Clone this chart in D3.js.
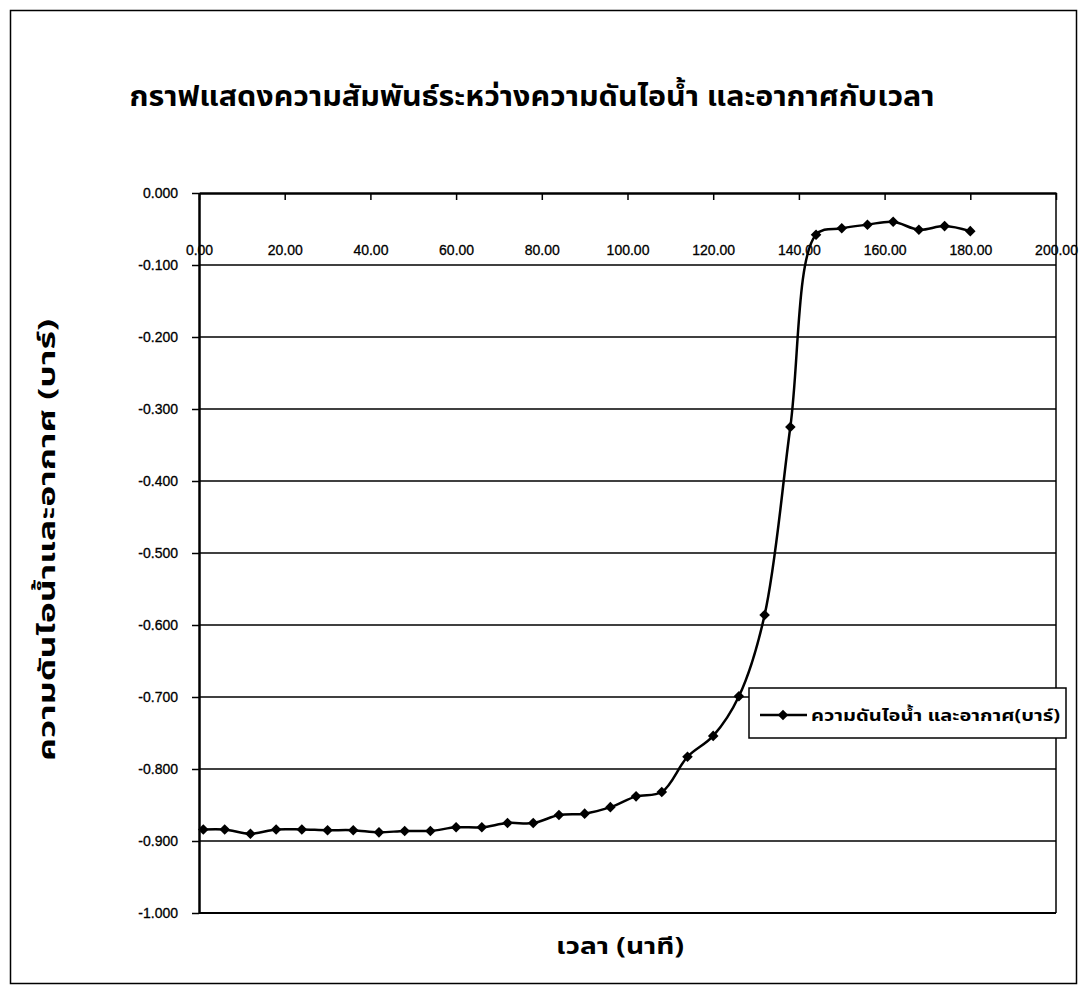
<!DOCTYPE html>
<html>
<head>
<meta charset="utf-8">
<script src="https://cdn.jsdelivr.net/npm/d3@7"></script>
<style>
  html, body { margin: 0; padding: 0; background: #fff; }
  svg { display: block; }
</style>
</head>
<body>
<script>
// ---- Data ----
const titleText = "กราฟแสดงความสัมพันธ์ระหว่างความดันไอน้ำ และอากาศกับเวลา";
const xAxisTitle = "เวลา (นาที)";
const yAxisTitle = "ความดันไอน้ำและอากาศ (บาร์)";
const seriesName = "ความดันไอน้ำ และอากาศ(บาร์)";

const timeMinutes = [1, 6, 12, 18, 24, 30, 36, 42, 48, 54, 60, 66, 72, 78, 84, 90, 96, 102, 108, 114, 120, 126, 132, 138, 144, 150, 156, 162, 168, 174, 180];
const pressureBar = [-0.884, -0.884, -0.890, -0.884, -0.884, -0.885, -0.885, -0.888, -0.886, -0.886, -0.881, -0.881, -0.875, -0.875, -0.864, -0.862, -0.853, -0.838, -0.832, -0.783, -0.754, -0.699, -0.586, -0.325, -0.058, -0.049, -0.044, -0.040, -0.051, -0.046, -0.053];

const xTicks = [0, 20, 40, 60, 80, 100, 120, 140, 160, 180, 200];
const yTicks = [0, -0.1, -0.2, -0.3, -0.4, -0.5, -0.6, -0.7, -0.8, -0.9, -1.0];

// ---- Layout ----
const W = 1086, H = 990;
const plot = { left: 199, right: 1056, top: 193, bottom: 913 };

const svg = d3.select("body").append("svg").attr("width", W).attr("height", H);

// outer frame
svg.append("rect").attr("x", 10.5).attr("y", 10.5).attr("width", 1066).attr("height", 973)
  .attr("fill", "none").attr("stroke", "#000").attr("stroke-width", 1.5);

const x = d3.scaleLinear().domain([0, 200]).range([plot.left, plot.right]);
const y = d3.scaleLinear().domain([-1, 0]).range([plot.bottom, plot.top]);

const thaiFont = "'Noto Sans Thai', 'Noto Sans', 'DejaVu Sans', sans-serif";
const numFont = "'Liberation Sans', Arial, sans-serif";

// gridlines
svg.append("g").selectAll("line").data(yTicks.filter(t => t < 0 && t > -1)).join("line")
  .attr("x1", plot.left).attr("x2", plot.right)
  .attr("y1", d => y(d)).attr("y2", d => y(d))
  .attr("stroke", "#000").attr("stroke-width", 1.5);

// plot area border (right and bottom)
svg.append("line").attr("x1", plot.right).attr("x2", plot.right).attr("y1", plot.top).attr("y2", plot.bottom)
  .attr("stroke", "#000").attr("stroke-width", 1.5);
svg.append("line").attr("x1", plot.left).attr("x2", plot.right).attr("y1", plot.bottom).attr("y2", plot.bottom)
  .attr("stroke", "#000").attr("stroke-width", 2);

// y axis (at x = 0)
const yAxis = d3.axisLeft(y).tickValues(yTicks).tickFormat(d3.format(".3f")).tickSizeInner(7).tickSizeOuter(0).tickPadding(14);
const gy = svg.append("g").attr("transform", `translate(${x(0)},0)`).call(yAxis);
gy.select(".domain").attr("stroke-width", 2.5);
gy.selectAll(".tick line").attr("stroke-width", 1.5);
gy.selectAll("text").attr("font-family", numFont).attr("font-size", 14).attr("fill", "#000")
  .attr("stroke", "#000").attr("stroke-width", 0.3)
  .text(d => d === 0 ? "0.000" : d3.format(".3f")(d).replace("−", "-"));

// x axis (at y = 0, top)
const xAxis = d3.axisBottom(x).tickValues(xTicks).tickFormat(d3.format(".2f")).tickSizeInner(7).tickSizeOuter(0).tickPadding(45);
const gx = svg.append("g").attr("transform", `translate(0,${y(0)})`).call(xAxis);
gx.select(".domain").attr("stroke-width", 2.5);
gx.selectAll(".tick line").attr("stroke-width", 1.5);
gx.selectAll("text").attr("font-family", numFont).attr("font-size", 14).attr("fill", "#000")
  .attr("stroke", "#000").attr("stroke-width", 0.3);

// series line
const line = d3.line()
  .x((d, i) => x(timeMinutes[i]))
  .y(d => y(d))
  .curve(d3.curveCatmullRom.alpha(0.5));
svg.append("path").datum(pressureBar).attr("d", line)
  .attr("fill", "none").attr("stroke", "#000").attr("stroke-width", 2.5);

// markers
const diamond = d3.symbol().type(d3.symbolSquare).size(56);
svg.append("g").selectAll("path").data(pressureBar).join("path")
  .attr("d", diamond)
  .attr("transform", (d, i) => `translate(${x(timeMinutes[i])},${y(d)}) rotate(45)`)
  .attr("fill", "#000");

// title
svg.append("text").attr("x", 532).attr("y", 106).attr("text-anchor", "middle")
  .attr("font-family", thaiFont).attr("font-weight", "bold").attr("font-size", 28)
  .attr("textLength", 805).attr("lengthAdjust", "spacingAndGlyphs")
  .text(titleText);

// axis titles
svg.append("text").attr("x", 620).attr("y", 954).attr("text-anchor", "middle")
  .attr("font-family", thaiFont).attr("font-weight", "bold").attr("font-size", 23)
  .attr("textLength", 128).attr("lengthAdjust", "spacingAndGlyphs")
  .text(xAxisTitle);

svg.append("text").attr("transform", "translate(55,540) rotate(-90)").attr("text-anchor", "middle")
  .attr("font-family", thaiFont).attr("font-weight", "bold").attr("font-size", 23)
  .attr("textLength", 442).attr("lengthAdjust", "spacingAndGlyphs")
  .text(yAxisTitle);

// legend
const lg = svg.append("g").attr("transform", "translate(749,688)");
lg.append("rect").attr("x", 0).attr("y", 0).attr("width", 317).attr("height", 50)
  .attr("fill", "#fff").attr("stroke", "#000").attr("stroke-width", 1.5);
lg.append("line").attr("x1", 11).attr("x2", 58).attr("y1", 27).attr("y2", 27)
  .attr("stroke", "#000").attr("stroke-width", 2.5);
lg.append("path").attr("d", diamond).attr("transform", "translate(34,27) rotate(45)").attr("fill", "#000");
lg.append("text").attr("x", 62).attr("y", 33)
  .attr("font-family", thaiFont).attr("font-weight", "bold").attr("font-size", 16)
  .attr("textLength", 249).attr("lengthAdjust", "spacingAndGlyphs")
  .text(seriesName);
</script>
</body>
</html>
